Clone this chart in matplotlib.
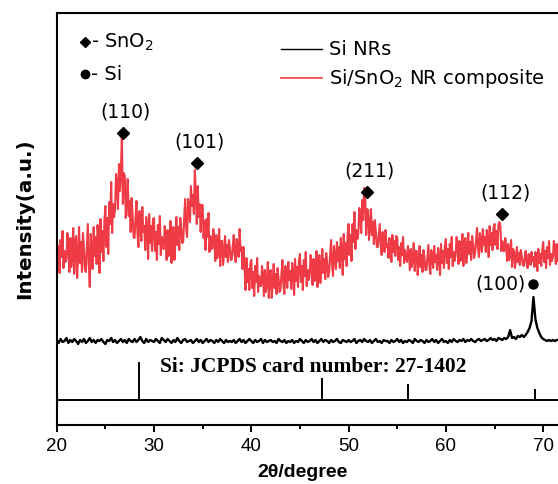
"""XRD patterns of Si NRs and Si/SnO2 NR composite"""

import numpy as np
import matplotlib
matplotlib.use("Agg")
import matplotlib.pyplot as plt

plt.rcParams["font.family"] = ["Liberation Sans", "DejaVu Sans"]
plt.rcParams["mathtext.default"] = "regular"

# 2theta grids (degrees)
theta_red = np.round(np.arange(20.0, 71.55, 0.1), 1)
theta_black = np.round(np.arange(20.0, 71.45, 0.2), 1)

# Si/SnO2 NR composite (a.u.), one row per degree
composite = [
    192, 161, 179, 152, 185, 168, 194, 157, 174, 163,
    166, 192, 179, 153, 187, 158, 171, 197, 151, 184,
    189, 147, 168, 198, 162, 183, 153, 192, 177, 156,
    153, 178, 201, 162, 138, 191, 175, 156, 198, 169,
    188, 161, 200, 185, 152, 206, 173, 194, 164, 203,
    219, 178, 207, 171, 223, 201, 243, 192, 221, 208,
    217, 251, 241, 216, 261, 234, 255, 288, 221, 252,
    249, 207, 222, 246, 209, 224, 193, 227, 210, 188,
    187, 207, 224, 192, 178, 214, 201, 184, 218, 193,
    199, 175, 208, 195, 166, 211, 182, 199, 174, 206,
    207, 174, 193, 165, 200, 181, 209, 170, 188, 177,
    176, 199, 188, 165, 195, 169, 181, 204, 162, 192,
    198, 165, 183, 208, 180, 198, 175, 207, 197, 182,
    183, 206, 226, 198, 188, 226, 216, 203, 239, 219,
    230, 211, 255, 231, 201, 239, 208, 221, 193, 220,
    220, 187, 204, 175, 206, 188, 212, 173, 189, 176,
    177, 196, 185, 164, 190, 167, 176, 196, 159, 184,
    184, 160, 172, 189, 168, 180, 163, 185, 177, 165,
    166, 179, 190, 171, 163, 186, 178, 168, 196, 174,
    178, 156, 178, 162, 135, 167, 143, 156, 135, 161,
    165, 137, 153, 129, 159, 143, 167, 133, 149, 139,
    139, 159, 149, 129, 155, 133, 143, 163, 127, 153,
    155, 127, 141, 161, 137, 151, 131, 157, 147, 133,
    135, 151, 165, 141, 131, 159, 149, 137, 163, 145,
    154, 136, 162, 152, 130, 166, 144, 158, 138, 164,
    171, 143, 159, 135, 165, 149, 173, 139, 155, 145,
    150, 170, 160, 140, 166, 144, 154, 174, 138, 164,
    170, 142, 156, 176, 152, 166, 146, 172, 162, 148,
    153, 170, 185, 160, 149, 179, 168, 156, 183, 164,
    178, 157, 187, 175, 150, 191, 166, 182, 159, 189,
    201, 170, 190, 164, 201, 183, 213, 176, 195, 186,
    191, 217, 210, 192, 225, 205, 237, 235, 190, 216,
    215, 185, 198, 216, 190, 203, 181, 205, 194, 178,
    178, 190, 201, 180, 170, 193, 184, 173, 195, 178,
    181, 167, 187, 180, 163, 190, 173, 184, 169, 189,
    187, 165, 178, 159, 182, 170, 188, 162, 175, 167,
    163, 179, 171, 155, 176, 158, 166, 182, 154, 174,
    174, 150, 162, 179, 158, 170, 153, 175, 167, 155,
    155, 168, 180, 160, 151, 175, 167, 157, 179, 163,
    170, 155, 177, 169, 150, 181, 162, 174, 157, 179,
    186, 162, 176, 156, 181, 168, 188, 159, 173, 164,
    170, 188, 179, 161, 184, 164, 173, 191, 159, 182,
    187, 162, 174, 192, 171, 183, 165, 189, 180, 167,
    172, 185, 197, 177, 168, 192, 184, 173, 196, 180,
    188, 173, 195, 187, 168, 199, 180, 192, 175, 197,
    201, 180, 194, 176, 200, 203, 199, 174, 184, 174,
    174, 187, 179, 164, 181, 165, 171, 185, 158, 176,
    174, 157, 166, 178, 163, 172, 160, 175, 169, 161,
    159, 167, 174, 162, 157, 171, 166, 160, 173, 164,
    168, 158, 173, 167, 154, 176, 162, 171, 159, 174,
    183, 163, 174, 157, 178, 167, 184, 160, 171, 164,
    168, 184, 176, 161, 181, 164,
]

# Si NRs (a.u.), one row per two degrees
si_nrs = [
    85, 82, 86, 83, 84, 87, 82, 85, 83, 86,
    84, 81, 85, 83, 86, 82, 84, 87, 83, 85,
    82, 85, 84, 86, 83, 81, 85, 84, 87, 83,
    85, 82, 84, 86, 83, 85, 82, 86, 84, 83,
    86, 83, 85, 88, 84, 82, 86, 83, 85, 84,
    83, 86, 84, 82, 87, 85, 83, 86, 84, 82,
    85, 83, 87, 84, 82, 85, 86, 83, 84, 85,
    82, 84, 86, 83, 85, 82, 84, 86, 83, 85,
    84, 82, 85, 83, 86, 84, 82, 85, 83, 84,
    83, 85, 82, 84, 86, 83, 85, 82, 84, 86,
    84, 82, 85, 83, 84, 86, 82, 85, 83, 84,
    85, 83, 84, 82, 86, 84, 83, 85, 82, 84,
    83, 85, 82, 84, 83, 86, 84, 82, 85, 83,
    84, 86, 83, 85, 82, 84, 86, 83, 85, 84,
    82, 85, 83, 84, 86, 83, 82, 85, 84, 83,
    85, 83, 84, 86, 82, 84, 85, 83, 86, 84,
    83, 85, 82, 84, 86, 83, 84, 82, 85, 84,
    84, 82, 85, 83, 84, 86, 83, 85, 82, 84,
    83, 85, 84, 82, 86, 84, 83, 85, 84, 82,
    85, 83, 84, 86, 83, 85, 82, 84, 86, 83,
    84, 82, 85, 83, 86, 84, 83, 85, 84, 86,
    83, 85, 84, 86, 84, 83, 85, 86, 84, 85,
    86, 84, 85, 87, 85, 86, 84, 87, 86, 85,
    87, 86, 88, 95, 87, 88, 86, 89, 88, 90,
    88, 90, 93, 97, 104, 128, 106, 97, 92, 88,
    86, 85, 84, 85, 84, 85, 84, 85,
]

# Si reference pattern, JCPDS 27-1402
card_pos = [28.44, 47.30, 56.12, 69.13]
card_height = [63, 47, 41, 36]
card_base = 25

# peak labels
sno2_labels = ["(110)", "(101)", "(211)", "(112)"]
sno2_theta = [26.8, 34.4, 51.9, 65.8]
sno2_mark = [292, 262, 233, 211]
si_label = "(100)"
si_theta = 69.0
si_mark = 141

red = "#ef3b45"
wide = "DejaVu Sans"

fig = plt.figure(figsize=(5.58, 4.84), dpi=100)
ax = fig.add_axes([0.1016, 0.1219, 1.0462, 0.8512])

ax.plot(theta_red, composite, color=red, lw=1.5)
ax.plot(theta_black, si_nrs, color="black", lw=1.7)

# stick pattern
ax.axhline(card_base, color="black", lw=1.4)
ax.vlines(card_pos, card_base, card_height, color="black", lw=1.4)
ax.text(30.6, 58, "Si: JCPDS card number: 27-1402", family="Liberation Serif",
        fontweight="bold", fontsize=15.5, ha="left", va="center")

# peak markers
for lab, t, m in zip(sno2_labels, sno2_theta, sno2_mark):
    ax.plot(t, m, marker="D", ms=6, color="black")
    ax.text(t + 0.3, m + 21, lab, family=wide, fontsize=13.5,
            ha="center", va="center")
ax.plot(si_theta, si_mark, marker="o", ms=6.5, color="black")
ax.text(si_theta - 3.4, si_mark, si_label, family=wide, fontsize=13.5,
        ha="center", va="center")

# symbol key
ax.plot(22.9, 383, marker="D", ms=5, color="black")
ax.text(23.5, 383, "- SnO$_2$", family=wide, fontsize=14, ha="left", va="center")
ax.plot(22.9, 351, marker="o", ms=6, color="black")
ax.text(23.5, 351, "- Si", family=wide, fontsize=14, ha="left", va="center")

# line legend
ax.plot([43.1, 47.3], [376, 376], color="black", lw=1)
ax.text(48.0, 376, "Si NRs", family=wide, fontsize=14, ha="left", va="center")
ax.plot([43.1, 47.3], [347, 347], color=red, lw=1.2)
ax.text(48.0, 347, "Si/SnO$_2$ NR composite", family=wide, fontsize=14,
        ha="left", va="center")

ax.set_xlim(20, 80)
ax.set_ylim(0, 412)
ax.set_xticks(range(20, 71, 10))
ax.set_xticks(range(25, 76, 10), minor=True)
ax.set_yticks([])
ax.tick_params(axis="x", which="major", direction="out", length=5, width=1.4,
               labelsize=13.5, pad=4)
ax.tick_params(axis="x", which="minor", direction="out", length=3, width=1.4)
for s in ax.spines.values():
    s.set_linewidth(1.5)

ax.set_xlabel("2\u03b8/degree", fontsize=14, fontweight="bold")
ax.xaxis.set_label_coords(0.422, -0.1165)
ax.xaxis.label.set_verticalalignment("center")
ax.set_ylabel("Intensity(a.u.)", family=wide, fontsize=14.3, fontweight="bold")
ax.yaxis.set_label_coords(-(56.7 - 25) / 583.8, 0.5)
ax.yaxis.label.set_verticalalignment("center")

fig.savefig("out.png", dpi=100)
